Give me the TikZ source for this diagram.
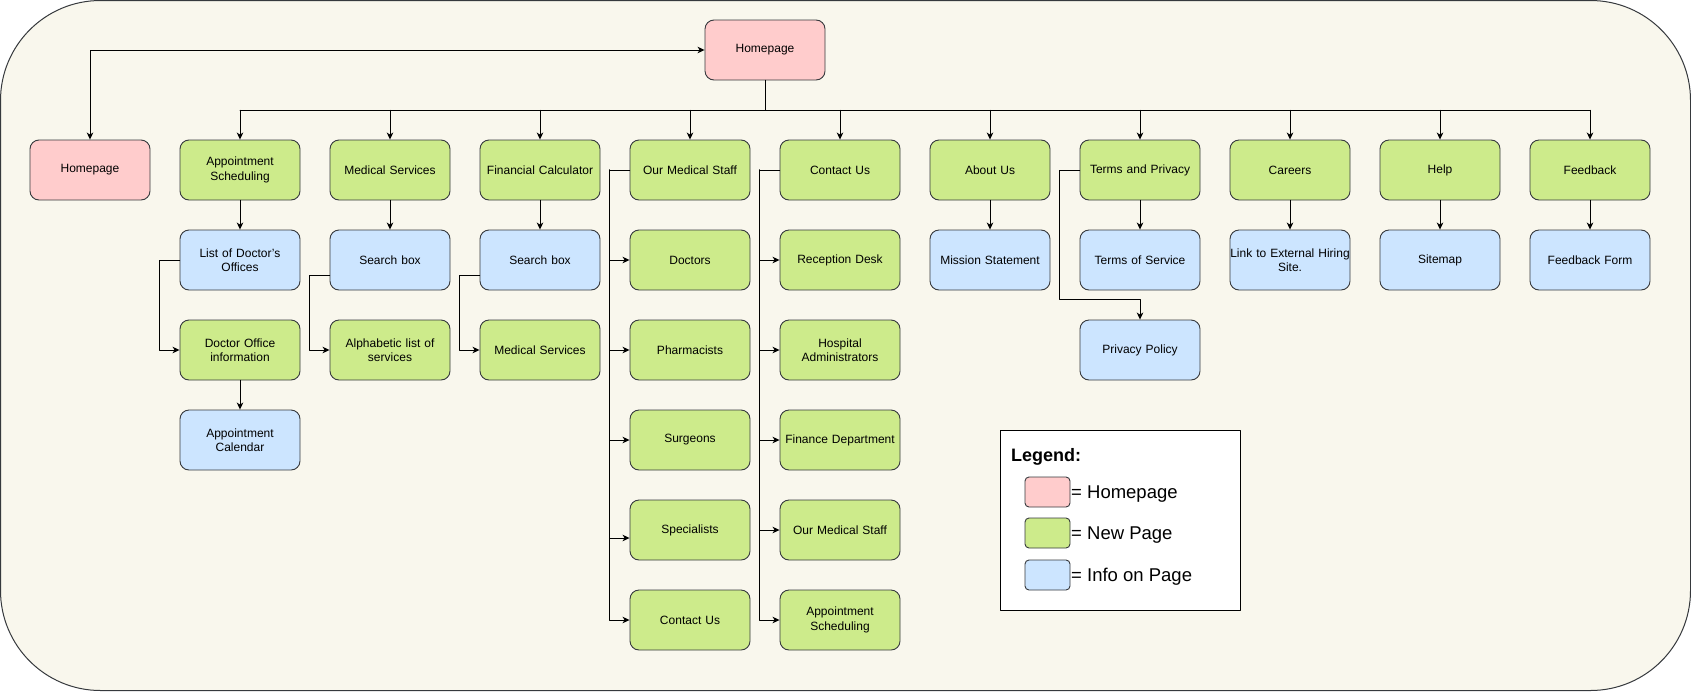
\documentclass[tikz,border=0pt]{standalone}
\usepackage{fontspec}
\setmainfont{Liberation Sans}
\usetikzlibrary{calc}
\usetikzlibrary{arrows.meta,positioning}
\definecolor{pageRed}{HTML}{FFCCCC}
\definecolor{pageGreen}{HTML}{CDEB8B}
\definecolor{pageBlue}{HTML}{CCE5FF}
\definecolor{edgeGray}{HTML}{36393D}
\definecolor{paper}{HTML}{F9F7ED}
\hyphenpenalty=10000
\exhyphenpenalty=10000

\begin{document}
\begin{tikzpicture}[
  x=1pt,y=-1pt,
  line cap=round,
  line join=round,
  >={Stealth[length=7pt,width=6.5pt,inset=2pt]},
  pagebox/.style={draw=edgeGray,line width=0.9pt,rounded corners=9pt,
    minimum width=120pt,minimum height=60pt,text width=120pt,inner xsep=0pt,inner ysep=1pt,
    align=center,font=\fontsize{12}{14.5}\selectfont},
  homebox/.style={pagebox,fill=pageRed},
  newbox/.style={pagebox,fill=pageGreen},
  infobox/.style={pagebox,fill=pageBlue},
  link/.style={draw=black,line width=1pt},
  swatch/.style={draw=edgeGray,line width=0.9pt,rounded corners=4pt,
    minimum width=45pt,minimum height=30pt,inner sep=0pt},
  legtext/.style={anchor=base west,inner sep=0pt,font=\fontsize{18.5}{22}\selectfont}
]
\useasboundingbox (0,0) rectangle (1691,691);

% Background panel
\draw[draw=edgeGray,fill=paper,line width=1pt,rounded corners=100pt] (0.5,0.5) rectangle (1690.5,690.5);

% Top level
\node[homebox] (home) at (765,50) {Homepage};
\node[homebox] (homeL) at (90,170) {Homepage};

% First row of pages
\node[newbox] (appt)     at (240,170)  {Appointment\\Scheduling};
\node[newbox] (medserv)  at (390,170)  {Medical Services};
\node[newbox] (fincalc)  at (540,170)  {Financial Calculator};
\node[newbox] (staff)    at (690,170)  {Our Medical Staff};
\node[newbox] (contact)  at (840,170)  {Contact Us};
\node[newbox] (about)    at (990,170)  {About Us};
\node[newbox] (terms)    at (1140,170) {Terms and Privacy};
\node[newbox] (careers)  at (1290,170) {Careers};
\node[newbox] (help)     at (1440,170) {Help};
\node[newbox] (feedback) at (1590,170) {Feedback};

% Appointment Scheduling branch
\node[infobox] (doclist) at (240,260) {List of Doctor's\\Offices};
\node[newbox]  (docinfo) at (240,350) {Doctor Office\\information};
\node[infobox] (apptcal) at (240,440) {Appointment\\Calendar};

% Medical Services branch
\node[infobox] (msearch)   at (390,260) {Search box};
\node[newbox]  (alphalist) at (390,350) {Alphabetic list of\\services};

% Financial Calculator branch
\node[infobox] (fsearch)  at (540,260) {Search box};
\node[newbox]  (fmedserv) at (540,350) {Medical Services};

% Our Medical Staff branch
\node[newbox] (doctors)  at (690,260) {Doctors};
\node[newbox] (pharm)    at (690,350) {Pharmacists};
\node[newbox] (surgeons) at (690,440) {Surgeons};
\node[newbox] (special)  at (690,530) {Specialists};
\node[newbox] (scontact) at (690,620) {Contact Us};

% Contact Us branch
\node[newbox] (reception) at (840,260) {Reception Desk};
\node[newbox] (admin)     at (840,350) {Hospital\\Administrators};
\node[newbox] (finance)   at (840,440) {Finance Department};
\node[newbox] (cstaff)    at (840,530) {Our Medical Staff};
\node[newbox] (cappt)     at (840,620) {Appointment\\Scheduling};

% Remaining info pages
\node[infobox] (mission) at (990,260)  {Mission Statement};
\node[infobox] (tos)     at (1140,260) {Terms of Service};
\node[infobox] (privacy) at (1140,350) {Privacy Policy};
\node[infobox] (hiring)  at (1290,260) {Link to External Hiring\\Site.};
\node[infobox] (sitemap) at (1440,260) {Sitemap};
\node[infobox] (fbform)  at (1590,260) {Feedback Form};

% Link between the two homepages
\draw[link,<->] (homeL.north) |- (home.west);

% Main bus
\coordinate (bus) at ($(home.south)+(0,30)$);
\draw[link] (home.south) -- (bus);
\draw[link] (bus -| appt.north) -- (bus -| feedback.north);
\draw[link,->] (bus -| appt.north) -- (appt.north);
\draw[link,->] (bus -| medserv.north) -- (medserv.north);
\draw[link,->] (bus -| fincalc.north) -- (fincalc.north);
\draw[link,->] (bus -| staff.north) -- (staff.north);
\draw[link,->] (bus -| contact.north) -- (contact.north);
\draw[link,->] (bus -| about.north) -- (about.north);
\draw[link,->] (bus -| terms.north) -- (terms.north);
\draw[link,->] (bus -| careers.north) -- (careers.north);
\draw[link,->] (bus -| help.north) -- (help.north);
\draw[link,->] (bus -| feedback.north) -- (feedback.north);

% Column connectors
\draw[link,->] (appt) -- (doclist);
\draw[link,->] (doclist.west) -- ++(-20,0) |- (docinfo.west);
\draw[link,->] (docinfo) -- (apptcal);

\draw[link,->] (medserv) -- (msearch);
\draw[link,->] ($(msearch.west)+(0,15)$) -- ++(-20,0) |- (alphalist.west);

\draw[link,->] (fincalc) -- (fsearch);
\draw[link,->] ($(fsearch.west)+(0,15)$) -- ++(-20,0) |- (fmedserv.west);

\coordinate (staffbus) at ($(staff.west)+(-20,0)$);
\draw[link,->] (staff.west) -- (staffbus) |- (doctors.west);
\draw[link,->] (staffbus) |- (pharm.west);
\draw[link,->] (staffbus) |- (surgeons.west);
\draw[link,->] (staffbus) |- ($(special.west)+(0,8)$);
\draw[link,->] (staffbus) |- (scontact.west);

\coordinate (contactbus) at ($(contact.west)+(-20,0)$);
\draw[link,->] (contact.west) -- (contactbus) |- (reception.west);
\draw[link,->] (contactbus) |- (admin.west);
\draw[link,->] (contactbus) |- (finance.west);
\draw[link,->] (contactbus) |- (cstaff.west);
\draw[link,->] (contactbus) |- (cappt.west);

\draw[link,->] (about) -- (mission);
\draw[link,->] (terms) -- (tos);
\draw[link,->] (terms.west) -- ++(-20,0) |- ($(privacy.north)+(0,-20)$) -- (privacy.north);
\draw[link,->] (careers) -- (hiring);
\draw[link,->] (help) -- (sitemap);
\draw[link,->] (feedback) -- (fbform);

% Legend
\node[draw=black,fill=white,line width=1pt,minimum width=240pt,minimum height=180pt,inner sep=0pt] (legend) at (1120,520) {};
\node[anchor=base west,inner sep=0pt,font=\bfseries\fontsize{18}{22}\selectfont] (legtitle) at (1011,461) {Legend:};
\node[swatch,fill=pageRed]   (swred)   at (1047.5,492) {};
\node[swatch,fill=pageGreen] (swgreen) at (1047.5,533) {};
\node[swatch,fill=pageBlue]  (swblue)  at (1047.5,575) {};
\node[legtext] (legred)   at (1071,498) {= Homepage};
\node[legtext] (leggreen) at (1071,539) {= New Page};
\node[legtext] (legblue)  at (1071,581) {= Info on Page};

\end{tikzpicture}
\end{document}
